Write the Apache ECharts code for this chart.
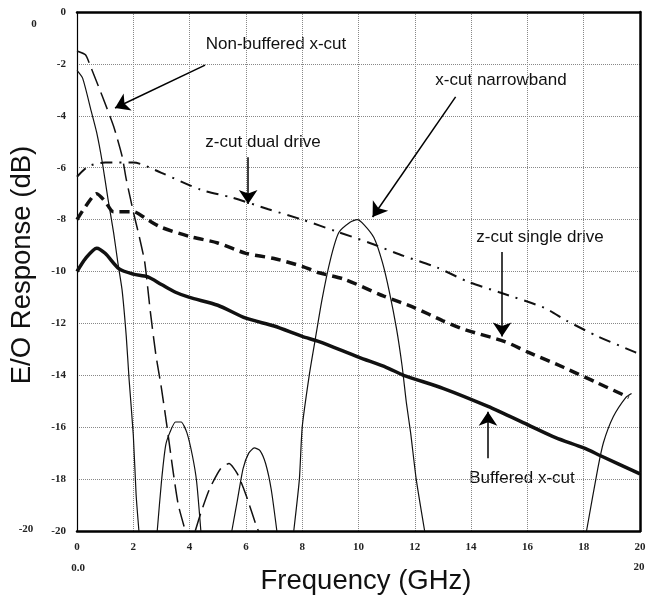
<!DOCTYPE html>
<html>
<head>
<meta charset="utf-8">
<script src="https://cdn.jsdelivr.net/npm/echarts@6/dist/echarts.min.js"></script>
<style>
html,body{margin:0;padding:0;background:#fff;}
#chart{width:652px;height:601px;}
</style>
</head>
<body>
<div id="chart"></div>
<script>
// ---- Data (GHz, dB) ----
const xTicks = [0, 2, 4, 6, 8, 10, 12, 14, 16, 18, 20];
const yTicks = [0, -2, -4, -6, -8, -10, -12, -14, -16, -18, -20];

const buffered = [[0,-10.0],[0.3,-9.5],[0.7,-9.1],[1.0,-9.3],[1.5,-9.9],[2.0,-10.1],[2.5,-10.2],[3.0,-10.5],[3.5,-10.8],[4.0,-11.0],[5.0,-11.3],[6.0,-11.8],[7.0,-12.1],[8.0,-12.5],[8.6,-12.7],[10.0,-13.3],[11.0,-13.7],[11.6,-14.0],[13.0,-14.5],[14.6,-15.2],[16.0,-15.9],[17.0,-16.4],[18.0,-16.8],[18.6,-17.1],[20.0,-17.8]];

const zSingle = [[0,-8.0],[0.3,-7.5],[0.7,-7.0],[1.0,-7.3],[1.3,-7.7],[2.0,-7.7],[2.5,-8.0],[3.0,-8.3],[4.0,-8.65],[5.0,-8.9],[6.0,-9.3],[7.0,-9.5],[8.0,-9.8],[8.6,-10.05],[9.5,-10.3],[10.9,-10.95],[12.0,-11.4],[13.0,-11.9],[13.8,-12.25],[15.2,-12.7],[16.0,-13.1],[17.3,-13.7],[18.5,-14.3],[19.6,-14.85]];

const zDual = [[0,-6.35],[0.4,-5.95],[1.0,-5.8],[2.0,-5.8],[3.0,-6.2],[4.4,-6.85],[5.5,-7.15],[6.8,-7.6],[8.0,-8.0],[9.2,-8.45],[10.4,-8.9],[11.6,-9.4],[12.8,-9.85],[13.9,-10.4],[15.0,-10.8],[16.6,-11.4],[17.4,-11.9],[18.5,-12.5],[19.8,-13.1],[20.0,-13.2]];

const nonBuffered = [[0,-1.5],[0.3,-1.65],[0.5,-2.15],[0.9,-3.25],[1.3,-4.4],[1.6,-5.55],[1.75,-6.45],[1.9,-7.2],[2.0,-7.7],[2.2,-8.6],[2.4,-9.6],[2.5,-10.5],[2.6,-11.5],[2.8,-13.2],[3.0,-14.5],[3.2,-16.0],[3.4,-17.6],[3.6,-19.0],[3.85,-20],
  [4.0,'-'],
  [4.2,-20],[4.4,-19.3],[4.7,-18.4],[5.1,-17.6],[5.4,-17.4],[5.7,-17.8],[6.0,-18.6],[6.4,-19.9],[6.45,-20]];

const narrowband = [[0,-2.25],[0.2,-2.55],[0.5,-3.8],[0.7,-4.65],[0.9,-5.8],[1.1,-7.2],[1.3,-8.5],[1.45,-9.65],[1.6,-10.7],[1.75,-12.5],[1.85,-14.15],[2.0,-16.3],[2.1,-18.6],[2.2,-20],
  [2.5,'-'],
  [2.85,-20],[3.0,-18.1],[3.15,-16.7],[3.3,-16.2],[3.5,-15.8],[3.7,-15.8],[3.9,-16.2],[4.1,-17.1],[4.25,-18.1],[4.4,-20],
  [5.0,'-'],
  [5.5,-20],[5.7,-18.8],[5.9,-17.6],[6.1,-17.0],[6.3,-16.8],[6.5,-16.9],[6.7,-17.4],[6.9,-18.4],[7.1,-20],
  [7.4,'-'],
  [7.7,-20],[7.9,-18.0],[8.0,-16.0],[8.25,-14.0],[8.45,-12.7],[8.7,-11.1],[9.0,-9.55],[9.3,-8.5],[9.7,-8.1],[9.95,-8.0],[10.2,-8.2],[10.55,-8.7],[10.85,-9.65],[11.1,-10.8],[11.35,-12.2],[11.55,-13.65],[11.7,-15.05],[11.85,-16.2],[12.05,-18.0],[12.35,-20],
  [15.0,'-'],
  [18.1,-20],[18.5,-17.6],[18.7,-16.6],[19.05,-15.6],[19.5,-14.85],[19.7,-14.7]];

// annotation arrows: [from, to] in data coordinates
const arrows = [
  [[4.55,-2.05],[1.35,-3.7]],
  [[13.45,-3.27],[10.5,-7.9]],
  [[6.08,-5.6],[6.08,-7.4]],
  [[15.1,-9.25],[15.1,-12.5]],
  [[14.6,-17.2],[14.6,-15.4]]
];

const chart = echarts.init(document.getElementById('chart'));
const tickFont = {fontFamily:'Liberation Serif', fontWeight:'bold', fontSize:11, color:'#222'};
const labelFont = '17px "Liberation Sans", Arial, sans-serif';
const titleFont = '27.5px "Liberation Sans", Arial, sans-serif';

function lineSeries(name, data, width, type, smooth) {
  return {
    name, type:'line', data, showSymbol:false, symbol:'none', smooth: smooth,
    connectNulls:false, clip:true, silent:true,
    lineStyle:{color:'#111', width, type},
    emphasis:{disabled:true}, z:3
  };
}

chart.setOption({
  animation:false,
  backgroundColor:'#fff',
  grid:{left:77, right:12, top:12, bottom:70, show:false},
  xAxis:[{
    type:'value', min:0, max:20, interval:2, position:'bottom',
    axisLine:{show:true, onZero:false, lineStyle:{color:'#000', width:2.5}},
    axisTick:{show:false},
    axisLabel:Object.assign({margin:11}, tickFont),
    splitLine:{show:true, lineStyle:{color:'#888', width:1, type:'dotted'}}
  },{
    type:'value', min:0, max:20, interval:2, position:'top',
    axisLine:{show:true, onZero:false, lineStyle:{color:'#000', width:2.5}},
    axisTick:{show:false}, axisLabel:{show:false}, splitLine:{show:false}
  }],
  yAxis:[{
    type:'value', min:-20, max:0, interval:2, position:'left',
    axisLine:{show:true, onZero:false, lineStyle:{color:'#000', width:1.2}},
    axisTick:{show:false},
    axisLabel:Object.assign({margin:11}, tickFont),
    splitLine:{show:true, lineStyle:{color:'#888', width:1, type:'dotted'}}
  },{
    type:'value', min:-20, max:0, interval:2, position:'right',
    axisLine:{show:true, onZero:false, lineStyle:{color:'#000', width:2.5}},
    axisTick:{show:false}, axisLabel:{show:false}, splitLine:{show:false}
  }],
  series:[
    lineSeries('Buffered x-cut', buffered, 3.5, 'solid', 0.25),
    lineSeries('z-cut single drive', zSingle, 3.5, [10,6], 0.25),
    lineSeries('z-cut dual drive', zDual, 2, [12,7,2,7], 0.25),
    lineSeries('Non-buffered x-cut', nonBuffered, 1.5, [18,7], 0.2),
    lineSeries('x-cut narrowband', narrowband, 1.2, 'solid', 0.2),
    {
      type:'line', data:[], silent:true,
      markLine:{
        silent:true, symbol:['none','arrow'], symbolSize:14,
        label:{show:false}, emphasis:{disabled:true},
        lineStyle:{color:'#000', width:1.5, type:'solid'},
        data: arrows.map(a => [{coord:a[0]}, {coord:a[1]}])
      }
    }
  ],
  graphic:[
    {type:'text', x:276, y:44, silent:true, style:{text:'Non-buffered x-cut', font:labelFont, fill:'#111', align:'center', verticalAlign:'middle'}},
    {type:'text', x:501, y:80, silent:true, style:{text:'x-cut narrowband', font:labelFont, fill:'#111', align:'center', verticalAlign:'middle'}},
    {type:'text', x:263, y:142, silent:true, style:{text:'z-cut dual drive', font:labelFont, fill:'#111', align:'center', verticalAlign:'middle'}},
    {type:'text', x:540, y:237, silent:true, style:{text:'z-cut single drive', font:labelFont, fill:'#111', align:'center', verticalAlign:'middle'}},
    {type:'text', x:522, y:478, silent:true, style:{text:'Buffered x-cut', font:labelFont, fill:'#111', align:'center', verticalAlign:'middle'}},
    {type:'text', x:22, y:265, rotation:Math.PI/2, silent:true, style:{text:'E/O Response (dB)', font:titleFont, fill:'#111', align:'center', verticalAlign:'middle'}},
    {type:'text', x:366, y:581, silent:true, style:{text:'Frequency (GHz)', font:titleFont, fill:'#111', align:'center', verticalAlign:'middle'}},
    {type:'text', x:34, y:24, silent:true, style:{text:'0', font:'bold 11px "Liberation Serif"', fill:'#222', align:'center', verticalAlign:'middle'}},
    {type:'text', x:26, y:529, silent:true, style:{text:'-20', font:'bold 11px "Liberation Serif"', fill:'#222', align:'center', verticalAlign:'middle'}},
    {type:'text', x:78, y:568, silent:true, style:{text:'0.0', font:'bold 11px "Liberation Serif"', fill:'#222', align:'center', verticalAlign:'middle'}},
    {type:'text', x:639, y:567, silent:true, style:{text:'20', font:'bold 11px "Liberation Serif"', fill:'#222', align:'center', verticalAlign:'middle'}}
  ]
});
</script>
</body>
</html>
